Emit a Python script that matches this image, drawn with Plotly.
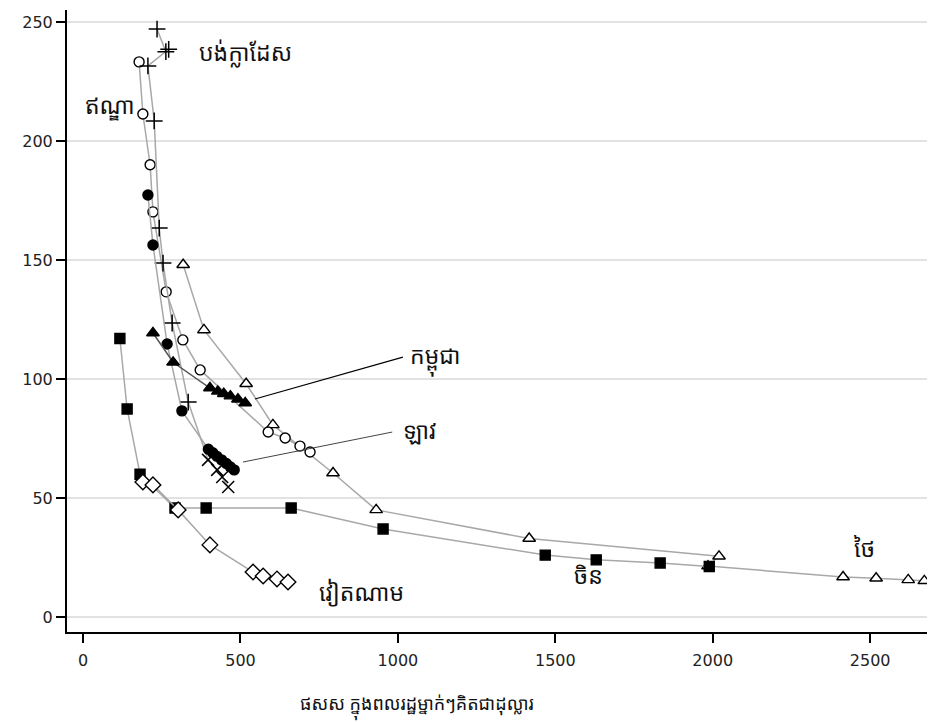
import plotly.graph_objects as go

# ---------------- data ----------------
thai_x = [318, 384, 518, 603, 794, 931, 1417, 2020, 1985, 2414, 2519, 2621, 2672]
thai_y = [148, 120.6, 98, 80.7, 60.5, 45, 33, 25.5, 21.4, 16.8, 16.3, 15.6, 15.2]

china_x = [117, 140, 181, 292, 391, 661, 953, 1468, 1630, 1833, 1989]
china_y = [117, 87.4, 60, 45.8, 45.8, 45.8, 37, 26, 24, 22.7, 21.2]

vietnam_x = [190, 222, 302, 403, 540, 572, 616, 651]
vietnam_y = [56.7, 55.5, 45, 30.3, 18.9, 17.2, 16, 14.7]

laos_x = [206, 222, 267, 314, 398, 412, 425, 440, 455, 468, 480]
laos_y = [177.3, 156.3, 114.7, 86.6, 70.5, 69, 67.5, 66, 64.5, 63, 61.8]

bangladesh_x = [235, 263, 272, 206, 226, 242, 254, 283, 334, 397, 426, 442, 461]
bangladesh_y = [247, 237.5, 238.5, 231.5, 208.4, 163.4, 148.7, 123.5, 90.3, 66, 61.8, 58.8, 54.6]

india_x = [178, 190, 213, 222, 264, 317, 372, 588, 642, 689, 721]
india_y = [233.2, 211.3, 190, 170.2, 136.6, 116.4, 103.8, 77.7, 75.2, 71.8, 69.3]

cambodia_x = [222, 286, 403, 428, 447, 468, 492, 515]
cambodia_y = [119.3, 107, 96.2, 94.8, 93.8, 92.8, 91.5, 89.9]

x_ticks = [0, 500, 1000, 1500, 2000, 2500]
y_ticks = [0, 50, 100, 150, 200, 250]

x_title = "ផសស ក្នុងពលរដ្ឋម្នាក់ៗគិតជាដុល្លារ"
label_bangladesh = "បង់ក្លាដែស"
label_india = "ឥណ្ឌា"
label_cambodia = "កម្ពុជា"
label_laos = "ឡាវ"
label_vietnam = "វៀតណាម"
label_china = "ចិន"
label_thai = "ថៃ"

# ---------------- figure ----------------
KH = "Noto Sans Khmer, Noto Serif Khmer, Khmer OS, Khmer OS System, DejaVu Sans, sans-serif"
LINE = dict(color="#a8a8a8", width=1.5)
fig = go.Figure()

def add(x, y, symbol, size, filled, line=LINE, lw=1.4):
    fig.add_trace(go.Scatter(
        x=x, y=y, mode="lines+markers", line=line, showlegend=False,
        marker=dict(symbol=symbol, size=size,
                    color="black" if filled else "white",
                    line=dict(color="black", width=lw)),
        hoverinfo="skip"))

add(thai_x, thai_y, "triangle-up", 11, False)
add(china_x, china_y, "square", 10, True)
add(vietnam_x, vietnam_y, "diamond", 12, False)
add(india_x, india_y, "circle", 10, False)
bang_symbols = ["cross-thin"] * 9 + ["x-thin"] * 4
fig.add_trace(go.Scatter(
    x=bangladesh_x, y=bangladesh_y, mode="lines+markers", line=LINE, showlegend=False,
    marker=dict(symbol=bang_symbols, size=12, color="black",
                line=dict(color="black", width=1.5)),
    hoverinfo="skip"))
add(laos_x, laos_y, "circle", 10, True)
add(cambodia_x, cambodia_y, "triangle-up", 11, True, line=dict(color="#555555", width=1.5))

# pointer lines
fig.add_shape(type="line", x0=546, y0=91.6, x1=1016, y1=109.2,
              line=dict(color="black", width=1.2))
fig.add_shape(type="line", x0=508, y0=65.1, x1=982, y1=77.7,
              line=dict(color="#444444", width=1))

def label(x, y, text, anchor="left"):
    fig.add_annotation(x=x, y=y, text=text, showarrow=False, xanchor=anchor,
                       yanchor="middle", font=dict(family=KH, size=23, color="#111111"))

label(362, 237.5, label_bangladesh)
label(170, 215, label_india, anchor="right")
label(1033, 109, label_cambodia)
label(1010, 78.6, label_laos)
label(743, 10.5, label_vietnam)
label(1554, 17.6, label_china)
label(2443, 29, label_thai)

W, H = 935, 722
L, T, R, B = 59, 2, 8, 98

# x-axis title (offset left of plot centre, as in the original); pixel -> paper coords
title_px, title_py = 417 - 8, 706 - 8
fig.add_annotation(x=(title_px - L) / (W - L - R), y=1 - (title_py - T) / (H - T - B),
                   xref="paper", yref="paper", text=x_title,
                   showarrow=False, xanchor="center", yanchor="middle",
                   font=dict(family=KH, size=18, color="#111111"))

fig.update_layout(
    width=W, height=H,
    margin=dict(l=L, r=R, t=T, b=B),
    plot_bgcolor="white", paper_bgcolor="white",
    font=dict(family="DejaVu Sans, Verdana, sans-serif", size=16, color="#222222"),
    xaxis=dict(range=[-51, 2706], tickvals=x_ticks, ticks="outside", ticklen=9,
               tickwidth=1.5, tickcolor="black", showline=True, linecolor="black",
               linewidth=2, showgrid=False, zeroline=False, ticklabelstandoff=4,
               tickfont=dict(size=16, color="#222222")),
    yaxis=dict(range=[-6.3, 255], tickvals=y_ticks, ticks="outside", ticklen=9,
               tickwidth=1.5, tickcolor="black", showline=True, linecolor="black",
               linewidth=2, showgrid=True, gridcolor="#e2e2e2", gridwidth=1.5,
               zeroline=False, tickfont=dict(size=16, color="#222222")),
)

fig.write_html("out.html")
